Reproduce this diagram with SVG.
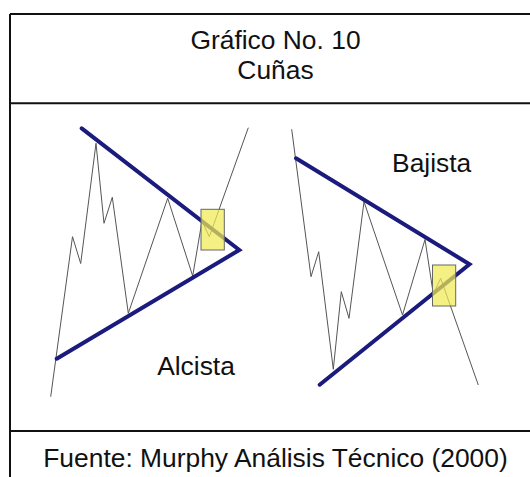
<svg xmlns="http://www.w3.org/2000/svg" width="530" height="477" viewBox="0 0 530 477">
<style>
.frame{stroke:#111;stroke-width:2;fill:none}
.t{font-family:"Liberation Sans",Arial,sans-serif;font-size:26.4px;fill:#111;text-anchor:middle}
.trend{stroke:#1b1b7e;stroke-width:4;fill:none;stroke-linecap:round;stroke-linejoin:miter}
.price{stroke:#555;stroke-width:1;fill:none;stroke-linejoin:miter}
.box{fill:#f1ea55;fill-opacity:0.72;stroke:#666;stroke-width:1}
</style>
<rect width="530" height="477" fill="#fff"/>
<g id="frame">
<path class="frame" d="M10,14 H545 M10,14 V480 M10,103.3 H545 M10,431 H545"/>
</g>
<g id="title">
<text class="t" x="275.5" y="48.5">Gráfico No. 10</text>
<text class="t" x="275.5" y="79">Cuñas</text>
</g>
<g id="chart-alcista">
<polyline class="price" points="50.7,396.7 72.5,236.7 80.7,263.5 96,143.3 104,223.3 112.3,197.3 128.3,313.3 167.7,198.3 192.7,276 202,221 209.3,236.7 248.3,127.7"/>
<path class="trend" d="M81.7,128.3 L239.3,250 L56.7,358.7"/>
<rect class="box" x="201" y="209.3" width="23.3" height="40.7"/>
<text class="t" x="196" y="375">Alcista</text>
</g>
<g id="chart-bajista">
<polyline class="price" points="291.7,129.3 311,276.7 318.7,251.7 333.3,369.3 341.3,291.7 349,318.3 364,201.7 402.5,315 425,239.5 433.3,294 440.7,278.3 478.3,385"/>
<path class="trend" d="M296,158.3 L469.5,264.2 L319.7,384.7"/>
<rect class="box" x="432.5" y="265" width="23.2" height="41"/>
<text class="t" x="431.7" y="172">Bajista</text>
</g>
<g id="source">
<text class="t" x="275.5" y="467">Fuente: Murphy Análisis Técnico (2000)</text>
</g>
</svg>
